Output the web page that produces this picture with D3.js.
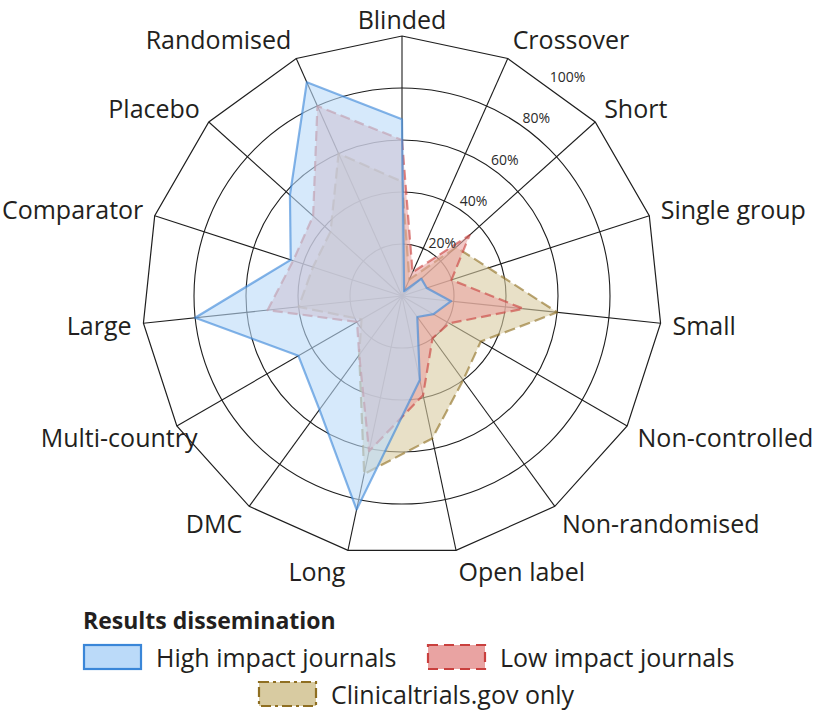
<!DOCTYPE html>
<html><head><meta charset="utf-8">
<script src="https://cdn.jsdelivr.net/npm/d3@7"></script>
<style>body{margin:0;background:#fff}svg{display:block}</style></head>
<body>
<svg id="chart" width="816" height="716"></svg>
<script>
// ---------- data ----------
const axes = ["Blinded","Crossover","Short","Single group","Small","Non-controlled","Non-randomised","Open label","Long","DMC","Multi-country","Large","Comparator","Placebo","Randomised"];
const highImpact = [68, 2, 10, 10, 19, 14, 10, 33, 84, 54, 46, 80, 45, 58, 90];
const lowImpact  = [60, 10, 35, 20, 47, 21, 20, 39, 61, 28, 20, 52, 44, 46, 80];
const ctgovOnly  = [44, 7, 28, 35, 60, 35, 40, 56, 70, 28, 18, 40, 36, 37, 60];
const ringTicks = [20, 40, 60, 80, 100];
const tickLabels = ["20%", "40%", "60%", "80%", "100%"];
const legendTitle = "Results dissemination";
const seriesNames = ["High impact journals", "Low impact journals", "Clinicaltrials.gov only"];

// ---------- layout ----------
const svg = d3.select("#chart");
const cx = 402, cy = 296, R = 260;
const font = "'Open Sans', 'Noto Sans', sans-serif";
const n = axes.length;
const r = d3.scaleLinear().domain([0, 100]).range([0, R]);
const angle = d3.scaleLinear().domain([0, n]).range([0, 2 * Math.PI]);

const styles = [
  {fill:"#bbdaf9", stroke:"#3a86d8", dash:null, legendDash:null},
  {fill:"#e9a3a2", stroke:"#c9403e", dash:"10,5", legendDash:"10,6"},
  {fill:"#d8cba1", stroke:"#8f6f22", dash:"11,5", legendDash:"10,4,3,4"}
];

const g = svg.append("g").attr("transform", `translate(${cx},${cy})`);

// grid
const gridColor = "#1e1e1e";
g.selectAll("circle.ring").data(ringTicks.filter(t => t < 100)).join("circle")
  .attr("class","ring").attr("r", d => r(d))
  .attr("fill","none").attr("stroke", gridColor).attr("stroke-width", 1.1);

const radial = d3.lineRadial().curve(d3.curveLinearClosed);
g.append("path")
  .attr("d", radial(axes.map((a, i) => [angle(i), r(100)])))
  .attr("fill","none").attr("stroke", gridColor).attr("stroke-width", 1.2);

g.selectAll("line.spoke").data(axes).join("line")
  .attr("class","spoke")
  .attr("x1",0).attr("y1",0)
  .attr("x2",(d,i) => r(100) * Math.sin(angle(i)))
  .attr("y2",(d,i) => -r(100) * Math.cos(angle(i)))
  .attr("stroke", gridColor).attr("stroke-width", 1.1);

// series (bottom to top)
const series = [
  {values: ctgovOnly, st: styles[2]},
  {values: lowImpact, st: styles[1]},
  {values: highImpact, st: styles[0]}
];
series.forEach(s => {
  g.append("path")
    .attr("d", radial(s.values.map((v, i) => [angle(i), r(v)])))
    .attr("fill", s.st.fill).attr("fill-opacity", 0.6)
    .attr("stroke", s.st.stroke).attr("stroke-opacity", 0.62)
    .attr("stroke-width", 2.2)
    .attr("stroke-dasharray", s.st.dash)
    .attr("stroke-linejoin","round");
});

// tick labels
const tickAngle = 37 * Math.PI / 180;
g.selectAll("text.tick").data(ringTicks).join("text")
  .attr("class","tick")
  .attr("x", d => (r(d) + 15) * Math.sin(tickAngle))
  .attr("y", d => -(r(d) + 15) * Math.cos(tickAngle))
  .attr("text-anchor","middle").attr("dominant-baseline","central")
  .attr("font-family", font).attr("font-size", 14).attr("fill","#2a2a2a")
  .text((d,i) => tickLabels[i]);

// axis labels
const nudge = {"Multi-country": 31};
g.selectAll("text.axis").data(axes).join("text")
  .attr("class","axis")
  .attr("x", (d,i) => (R + 12) * Math.sin(angle(i)) + (nudge[d] || 0))
  .attr("y", (d,i) => -(R + (i === 0 ? 17 : 21)) * Math.cos(angle(i)))
  .attr("text-anchor", (d,i) => {
    const s = Math.sin(angle(i));
    return Math.abs(s) < 0.05 ? "middle" : (s > 0 ? "start" : "end");
  })
  .attr("dominant-baseline","central")
  .attr("font-family", font).attr("font-size", 25).attr("fill","#231f20")
  .text(d => d);

// legend
const lg = svg.append("g");
lg.append("text").attr("x", 83).attr("y", 620)
  .attr("dominant-baseline","central")
  .attr("font-family", font).attr("font-weight", 700).attr("font-size", 23).attr("fill","#231f20")
  .text(legendTitle);
const legendItems = [
  {x: 84, y: 657, st: styles[0], name: seriesNames[0]},
  {x: 428, y: 657, st: styles[1], name: seriesNames[1]},
  {x: 259, y: 694, st: styles[2], name: seriesNames[2]}
];
legendItems.forEach(it => {
  lg.append("rect").attr("x", it.x).attr("y", it.y - 12).attr("width", 57).attr("height", 24)
    .attr("fill", it.st.fill).attr("stroke", it.st.stroke).attr("stroke-width", 2.2)
    .attr("stroke-dasharray", it.st.legendDash);
  lg.append("text").attr("x", it.x + 72).attr("y", it.y)
    .attr("dominant-baseline","central")
    .attr("font-family", font).attr("font-size", 25).attr("fill","#231f20")
    .text(it.name);
});
</script>
</body></html>
